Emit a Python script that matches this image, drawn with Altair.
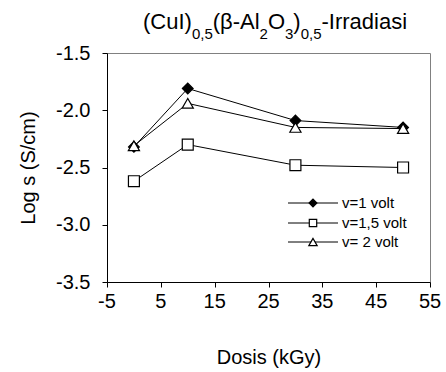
import altair as alt
import pandas as pd

# ---- data ----
dosis = [0, 10, 30, 50]
series = ["v=1 volt", "v=1,5 volt", "v= 2 volt"]
v1 = [-2.32, -1.81, -2.09, -2.15]
v15 = [-2.62, -2.30, -2.48, -2.50]
v2 = [-2.31, -1.94, -2.15, -2.16]
x_ticks = [-5, 5, 15, 25, 35, 45, 55]
x_tick_labels = ["-5", "5", "15", "25", "35", "45", "55"]
y_ticks = [-3.5, -3.0, -2.5, -2.0, -1.5]

rows = []
for name, vals in zip(series, [v1, v15, v2]):
    for d, v in zip(dosis, vals):
        rows.append({"series": name, "dosis": d, "logs": v})
df = pd.DataFrame(rows)
xt_df = pd.DataFrame({"dosis": x_ticks, "lbl": x_tick_labels})

W, H = 323, 229
FONT = "Liberation Sans"

x_enc = alt.X("dosis:Q", scale=alt.Scale(domain=[-5, 55], nice=False, zero=False),
              axis=alt.Axis(values=x_ticks, title="Dosis (kGy)", labels=False,
                            titleX=W / 2, titleY=75, titleBaseline="middle", titleAlign="center"))
y_enc = alt.Y("logs:Q", scale=alt.Scale(domain=[-3.5, -1.5], nice=False, zero=False),
              axis=alt.Axis(values=y_ticks, title="Log s (S/cm)", labelOverlap=False,
                            titleX=-79, titleY=H / 2, titleBaseline="middle", titleAlign="center",
                            labelExpr="replace(format(datum.value, '.1f'), '\u2212', '-')"))

base = alt.Chart(df)
lines = base.mark_line(color="black", strokeWidth=1).encode(x=x_enc, y=y_enc, detail="series:N")
shape_scale = alt.Scale(domain=series, range=["diamond", "square", "triangle-up"])
fill_scale = alt.Scale(domain=series, range=["black", "white", "white"])
size_scale = alt.Scale(domain=series, range=[115, 125, 160])
points = base.mark_point(stroke="black", strokeWidth=1.2, opacity=1, filled=False).encode(
    x="dosis:Q", y="logs:Q",
    shape=alt.Shape("series:N", scale=shape_scale, legend=None),
    fill=alt.Fill("series:N", scale=fill_scale, legend=None),
    size=alt.Size("series:N", scale=size_scale, legend=None),
)
xlabels = alt.Chart(xt_df).mark_text(font=FONT, fontSize=20, color="black", baseline="middle",
                                     align="center").encode(
    x="dosis:Q", y=alt.value(H + 20), text="lbl:N")

# ---- legend (inside plot) ----
leg_layers = []
leg_shapes = ["diamond", "square", "triangle-up"]
leg_fills = ["black", "white", "white"]
leg_sizes = [60, 55, 70]
leg_y = [150, 170, 189]
for name, shp, fl, sz, yy in zip(series, leg_shapes, leg_fills, leg_sizes, leg_y):
    d = alt.Data(values=[{"label": name}])
    leg_layers.append(alt.Chart(d).mark_rule(color="black", strokeWidth=1).encode(
        x=alt.value(181), x2=alt.value(231), y=alt.value(yy)))
    leg_layers.append(alt.Chart(d).mark_point(shape=shp, fill=fl, stroke="black", strokeWidth=1.2,
                                               size=sz, opacity=1, filled=False).encode(
        x=alt.value(206), y=alt.value(yy)))
    leg_layers.append(alt.Chart(d).mark_text(align="left", baseline="middle", font=FONT, fontSize=15,
                                              color="black").encode(
        x=alt.value(235), y=alt.value(yy), text="label:N"))

# ---- title with subscripts ----
pieces = [("(CuI)", False), ("0,5", True), ("(\u03b2-Al", False), ("2", True), ("O", False),
          ("3", True), (")", False), ("0,5", True), ("-Irradiasi", False)]
cw = {"(": 333, ")": 333, "C": 722, "u": 556, "I": 278, "l": 222, ",": 278, "\u03b2": 573,
      "-": 333, "A": 667, "O": 778, "r": 333, "a": 556, "d": 556, "i": 222, "s": 500}
for k in "0123456789":
    cw[k] = 556
FT, FS = 22, 15
tx = 36
title_layers = []
for txt, sub in pieces:
    fs = FS if sub else FT
    d = alt.Data(values=[{"t": txt}])
    title_layers.append(alt.Chart(d).mark_text(align="left", baseline="alphabetic", font=FONT,
                                                fontSize=fs, color="black").encode(
        x=alt.value(tx), y=alt.value(-14 if sub else -24), text="t:N"))
    tx += sum(cw.get(c, 556) for c in txt) / 1000 * fs

chart = alt.layer(lines, points, xlabels, *leg_layers, *title_layers).properties(
    width=W, height=H,
    autosize=alt.AutoSizeParams(type="none"),
    padding={"left": 107, "top": 53, "right": 16, "bottom": 90},
    background="white",
).configure_view(stroke="#808080", strokeWidth=1).configure_axis(
    grid=False, domainColor="black", tickColor="black", domainWidth=1, tickWidth=1, tickSize=5,
    labelFont=FONT, labelFontSize=20, labelColor="black",
    titleFont=FONT, titleFontSize=20, titleFontWeight="normal", titleColor="black",
).configure_axisY(labelPadding=12)

chart.save("out.html", embed_options={"renderer": "svg", "actions": False})
